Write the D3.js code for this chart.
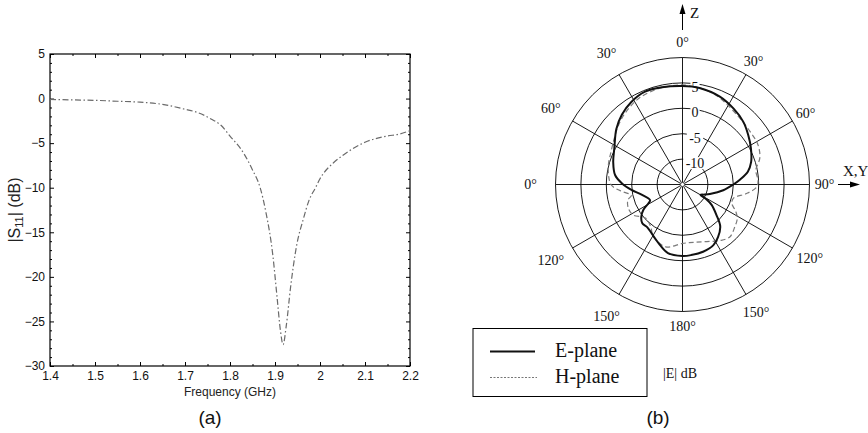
<!DOCTYPE html>
<html><head><meta charset="utf-8">
<script src="https://cdn.jsdelivr.net/npm/d3@7"></script>
<style>body{margin:0;background:#fff}svg{display:block}</style>
</head><body>
<svg id="c" width="868" height="433"></svg>
<script>
// ---- data: panel (a) ----
const freq = [1.40,1.45,1.50,1.55,1.60,1.65,1.70,1.73,1.76,1.78,1.80,1.83,1.85,1.867,1.88,1.895,1.905,1.912,1.918,1.925,1.935,1.948,1.963,1.975,1.99,2.00,2.03,2.05,2.10,2.15,2.175,2.20];
const s11  = [-0.1,-0.15,-0.2,-0.3,-0.4,-0.65,-1.2,-1.6,-2.35,-3.0,-4.2,-6.1,-8.0,-10.0,-12.8,-17.5,-22.5,-26.0,-27.6,-25.5,-21.0,-16.5,-13.5,-11.5,-10.0,-9.0,-7.2,-6.4,-4.9,-4.2,-4.0,-3.6];
const xTicks = [1.4,1.5,1.6,1.7,1.8,1.9,2.0,2.1,2.2];
const xMinor = [1.45,1.55,1.65,1.75,1.85,1.95,2.05,2.15];
const yTicks = [5,0,-5,-10,-15,-20,-25,-30];
const yMinor = d3.range(-30,6,1).filter(v => v % 5 !== 0);
// ---- data: panel (b) ----
const eAngles = [0,10,23,34,44,53,62,72,79,85,90,98,109,115,120,122,125,132,138,146,153,163,173,180,192,202,212,220,226,232,237,241,244,256,264,271,278,288,298,310,319,328,338,348];
const eDb = [4.4,4.3,3.8,3.0,2.2,1.2,0.25,-0.8,-1.9,-3.6,-5.0,-6.9,-9.3,-10.3,-10.9,-9.4,-8.0,-6.0,-3.9,-2.5,-1.6,-1.15,-1.0,-0.93,-1.2,-2.5,-3.6,-4.1,-4.0,-4.7,-5.8,-7.3,-7.9,-6.7,-4.9,-3.1,-1.6,-0.66,0.2,2.0,3.2,4.1,4.7,4.56];
const hAngles = [0,10,18,24,40,52,62,71,79,87,92,98,105,111,117,122,129,138,146,157,169,180,195,209,217,227,231,238,246,254,258,263,266,270,276,285,295,304,313,322,333,344,352];
const hDb = [4.6,4.3,3.9,3.5,2.3,1.9,1.8,1.1,-0.3,-0.1,-0.4,-2.25,-4.6,-4.6,-3.2,-2.3,-1.75,-1.1,-1.7,-2.8,-3.4,-3.4,-2.3,-3.2,-4.6,-5.2,-4.9,-3.6,-3.35,-3.8,-4.7,-3.2,-2.0,-0.9,-0.4,0.1,0.5,1.2,2.2,3.1,4.0,4.4,4.5];
const ringValues = [-10,-5,0,5,10];
const ringLabels = ["-10","-5","0","5"];
const spokeAngles = d3.range(0,360,30);
const angleLabelAngles = [0,30,60,90,120,150,180,210,240,270,300,330];
const angleLabelTexts = ["0°","30°","60°","90°","120°","150°","180°","150°","120°","0°","60°","30°"];
const legendNames = ["E-plane","H-plane"];

const svg = d3.select("#c");
const sans = "'Liberation Sans', Arial, sans-serif";
const serif = "'Liberation Serif', 'Times New Roman', serif";

// ================= Panel (a) =================
const x = d3.scaleLinear().domain([1.4,2.2]).range([50,410]);
const y = d3.scaleLinear().domain([-30,5]).range([366,54]);
const ga = svg.append("g");
const fmtY = d => d < 0 ? "\u2212" + Math.abs(d) : String(d);
const fmtX = d => String(+d.toFixed(1));

function styleAxis(g){
  g.select(".domain").remove();
  g.selectAll("line").attr("stroke","#000").attr("stroke-width",1);
  g.selectAll("text").attr("font-family",sans).attr("font-size",12).attr("fill","#111");
}
ga.append("g").attr("transform","translate(0,366)")
  .call(d3.axisBottom(x).tickValues(xTicks).tickSize(-4).tickPadding(5).tickFormat(fmtX)).call(styleAxis);
ga.append("g").attr("transform","translate(0,366)")
  .call(d3.axisBottom(x).tickValues(xMinor).tickSize(-2).tickFormat("")).call(styleAxis);
ga.append("g").attr("transform","translate(0,54)")
  .call(d3.axisTop(x).tickValues(xTicks).tickSize(-4).tickFormat("")).call(styleAxis);
ga.append("g").attr("transform","translate(0,54)")
  .call(d3.axisTop(x).tickValues(xMinor).tickSize(-2).tickFormat("")).call(styleAxis);
ga.append("g").attr("transform","translate(50,0)")
  .call(d3.axisLeft(y).tickValues(yTicks).tickSize(-4).tickPadding(5).tickFormat(fmtY)).call(styleAxis);
ga.append("g").attr("transform","translate(50,0)")
  .call(d3.axisLeft(y).tickValues(yMinor).tickSize(-2).tickFormat("")).call(styleAxis);
ga.append("g").attr("transform","translate(410,0)")
  .call(d3.axisRight(y).tickValues(yTicks).tickSize(-4).tickFormat("")).call(styleAxis);
ga.append("g").attr("transform","translate(410,0)")
  .call(d3.axisRight(y).tickValues(yMinor).tickSize(-2).tickFormat("")).call(styleAxis);
ga.append("rect").attr("x",50).attr("y",54).attr("width",360).attr("height",312)
  .attr("fill","none").attr("stroke","#000").attr("stroke-width",1.2);

ga.append("path")
  .datum(freq.map((f,i)=>[f,s11[i]]))
  .attr("d", d3.line().x(d=>x(d[0])).y(d=>y(d[1])).curve(d3.curveMonotoneX))
  .attr("fill","none").attr("stroke","#6a6a6a").attr("stroke-width",1.2)
  .attr("stroke-dasharray","6,2.5,1.5,2.5");

ga.append("text").attr("x",230).attr("y",396).attr("text-anchor","middle")
  .attr("font-family",sans).attr("font-size",12).attr("fill","#222").text("Frequency (GHz)");
const yt = ga.append("text").attr("transform","translate(20,210) rotate(-90)")
  .attr("text-anchor","middle").attr("font-family",sans).attr("font-size",16).attr("fill","#222");
yt.append("tspan").text("|S");
yt.append("tspan").attr("font-size",11).attr("dy",3).text("11");
yt.append("tspan").attr("dy",-3).text("| (dB)");
ga.append("text").attr("x",210).attr("y",424).attr("text-anchor","middle")
  .attr("font-family",sans).attr("font-size",19).attr("fill","#111").text("(a)");

// ================= Panel (b) =================
const cx = 682.5, cy = 184.5, R = 127;
const r = d3.scaleLinear().domain([-15,10]).range([0,R]);
const gp = svg.append("g").attr("transform",`translate(${cx},${cy})`);
const rad = a => a*Math.PI/180;

gp.selectAll("circle.ring").data(ringValues).join("circle").attr("class","ring")
  .attr("r", d=>r(d)).attr("fill","none").attr("stroke","#000").attr("stroke-width",0.9);
gp.selectAll("line.spoke").data(spokeAngles).join("line").attr("class","spoke")
  .attr("x1",0).attr("y1",0)
  .attr("x2",d=>R*Math.sin(rad(d))).attr("y2",d=>-R*Math.cos(rad(d)))
  .attr("stroke","#000").attr("stroke-width",0.9);

// ring labels
const rl = gp.selectAll("g.rl").data(ringLabels).join("g").attr("class","rl")
  .attr("transform", d=>`translate(12.5,${-r(+d)+4})`);
rl.append("rect").attr("x", d=> -d.length*3.6-1).attr("y",-6).attr("width",d=>d.length*7.2+2).attr("height",12).attr("fill","#fff");
rl.append("text").attr("text-anchor","middle").attr("dy","0.35em")
  .attr("font-family",serif).attr("font-size",14).attr("fill","#111").text(d=>d);

// center marker
gp.append("circle").attr("r",2).attr("fill","#fff").attr("stroke","#555").attr("stroke-width",0.8);

// patterns
const radial = d3.lineRadial().angle(d=>rad(d[0])).radius(d=>r(d[1])).curve(d3.curveCatmullRomClosed.alpha(0.5));
gp.append("path").datum(hAngles.map((a,i)=>[a,hDb[i]]))
  .attr("d",radial).attr("fill","none").attr("stroke","#7a7a7a").attr("stroke-width",1.2)
  .attr("stroke-dasharray","5,3");
gp.append("path").datum(eAngles.map((a,i)=>[a,eDb[i]]))
  .attr("d",radial).attr("fill","none").attr("stroke","#111").attr("stroke-width",2);

// angle labels
const labR = d => 142 + (Math.sin(rad(d)) < -0.01 ? 10 : 0) + (d>90 && d<180 ? 5 : 0);
gp.selectAll("text.al").data(angleLabelAngles).join("text").attr("class","al")
  .attr("x",d=>labR(d)*Math.sin(rad(d)))
  .attr("y",d=>-labR(d)*Math.cos(rad(d)))
  .attr("text-anchor","middle").attr("dy","0.35em")
  .attr("font-family",serif).attr("font-size",14).attr("fill","#111")
  .text((d,i)=>angleLabelTexts[i]);

// axes arrows
svg.append("line").attr("x1",cx).attr("y1",30).attr("x2",cx).attr("y2",12).attr("stroke","#000").attr("stroke-width",1);
svg.append("path").attr("d",`M${cx},4 L${cx-3},14 L${cx+3},14 Z`).attr("fill","#000");
svg.append("text").attr("x",690).attr("y",18).attr("font-family",serif).attr("font-size",15).attr("fill","#111").text("Z");
svg.append("line").attr("x1",838).attr("y1",cy).attr("x2",852).attr("y2",cy).attr("stroke","#000").attr("stroke-width",1);
svg.append("path").attr("d",`M860,${cy} L850,${cy-3} L850,${cy+3} Z`).attr("fill","#000");
svg.append("text").attr("x",843).attr("y",176).attr("font-family",serif).attr("font-size",15).attr("fill","#111").text("X,Y");

// legend
const lg = svg.append("g");
lg.append("rect").attr("x",473).attr("y",328.5).attr("width",174).attr("height",68)
  .attr("fill","#fff").attr("stroke","#000").attr("stroke-width",1);
lg.append("line").attr("x1",490).attr("x2",535).attr("y1",351.5).attr("y2",351.5).attr("stroke","#111").attr("stroke-width",2);
lg.append("line").attr("x1",490).attr("x2",537).attr("y1",377.5).attr("y2",377.5).attr("stroke","#777").attr("stroke-width",1).attr("stroke-dasharray","2,1.5");
lg.selectAll("text.lt").data(legendNames).join("text").attr("class","lt")
  .attr("x",555).attr("y",(d,i)=>357+i*26).attr("font-family",serif).attr("font-size",20).attr("fill","#111").text(d=>d);
svg.append("text").attr("x",663).attr("y",378).attr("font-family",serif).attr("font-size",14).attr("fill","#111").text("|E| dB");
svg.append("text").attr("x",658).attr("y",424).attr("text-anchor","middle")
  .attr("font-family",sans).attr("font-size",19).attr("fill","#111").text("(b)");
</script>
</body></html>
